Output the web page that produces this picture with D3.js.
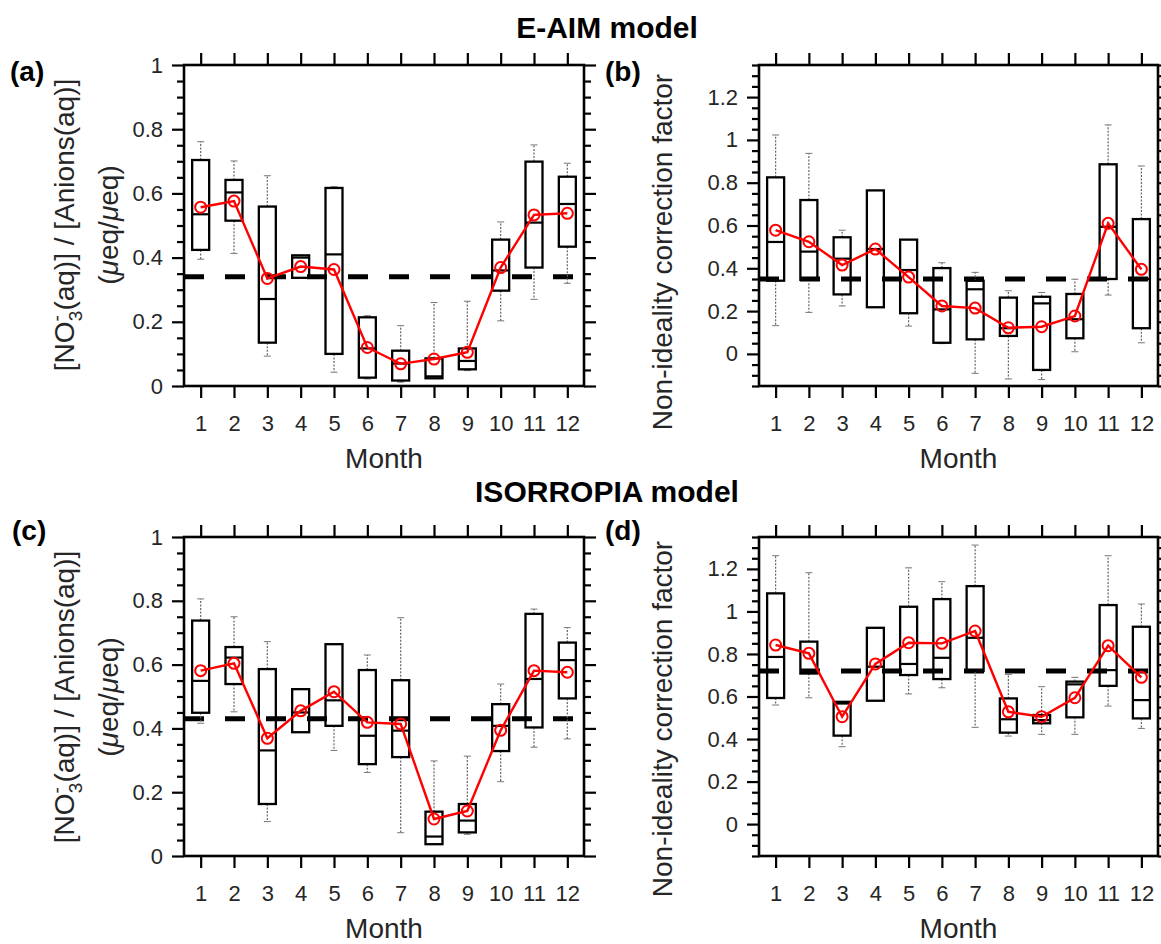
<!DOCTYPE html>
<html>
<head>
<meta charset="utf-8">
<script src="https://cdn.jsdelivr.net/npm/d3@7"></script>
<style>
  body { margin: 0; background: #fff; }
  svg text { font-family: "Liberation Sans", Arial, Helvetica, sans-serif; }
</style>
</head>
<body>
<script>
var months = [1, 2, 3, 4, 5, 6, 7, 8, 9, 10, 11, 12];

// (a) E-AIM: NO3- fraction of aqueous anions
var eaimFracLo   = [0.395, 0.413, 0.093, 0.337, 0.043, 0.022, 0.012, 0.024, 0.048, 0.203, 0.270, 0.320];
var eaimFracQ1   = [0.424, 0.515, 0.135, 0.337, 0.100, 0.026, 0.017, 0.024, 0.052, 0.297, 0.369, 0.434];
var eaimFracMed  = [0.535, 0.603, 0.271, 0.400, 0.410, 0.117, 0.070, 0.030, 0.078, 0.360, 0.509, 0.567];
var eaimFracQ3   = [0.704, 0.642, 0.559, 0.407, 0.617, 0.214, 0.110, 0.086, 0.117, 0.456, 0.699, 0.652];
var eaimFracHi   = [0.761, 0.701, 0.655, 0.407, 0.621, 0.219, 0.188, 0.260, 0.264, 0.511, 0.751, 0.694];
var eaimFracMean = [0.557, 0.576, 0.335, 0.372, 0.363, 0.120, 0.069, 0.084, 0.105, 0.369, 0.533, 0.538];
var eaimFracRef  = 0.34;

// (b) E-AIM: non-ideality correction factor
var eaimCorrLo   = [0.132, 0.194, 0.224, 0.218, 0.130, 0.048, -0.091, -0.117, -0.120, 0.010, 0.275, 0.052];
var eaimCorrQ1   = [0.342, 0.346, 0.278, 0.218, 0.190, 0.052, 0.068, 0.084, -0.075, 0.073, 0.350, 0.120];
var eaimCorrMed  = [0.523, 0.478, 0.445, 0.490, 0.392, 0.208, 0.302, 0.120, 0.236, 0.162, 0.594, 0.350];
var eaimCorrQ3   = [0.825, 0.719, 0.545, 0.764, 0.534, 0.401, 0.342, 0.263, 0.267, 0.280, 0.886, 0.630];
var eaimCorrHi   = [1.023, 0.937, 0.578, 0.764, 0.534, 0.426, 0.381, 0.295, 0.287, 0.349, 1.070, 0.878];
var eaimCorrMean = [0.578, 0.524, 0.415, 0.490, 0.359, 0.224, 0.214, 0.122, 0.127, 0.177, 0.610, 0.395];
var eaimCorrRef  = 0.35;

// (c) ISORROPIA: NO3- fraction of aqueous anions
var isoFracLo   = [0.416, 0.452, 0.108, 0.388, 0.331, 0.262, 0.073, 0.037, 0.068, 0.233, 0.341, 0.367];
var isoFracQ1   = [0.449, 0.539, 0.163, 0.388, 0.408, 0.288, 0.310, 0.037, 0.074, 0.329, 0.403, 0.494];
var isoFracMed  = [0.549, 0.622, 0.331, 0.450, 0.488, 0.377, 0.393, 0.061, 0.111, 0.408, 0.555, 0.614];
var isoFracQ3   = [0.738, 0.655, 0.586, 0.523, 0.664, 0.583, 0.551, 0.139, 0.163, 0.476, 0.759, 0.669];
var isoFracHi   = [0.806, 0.750, 0.672, 0.523, 0.664, 0.630, 0.747, 0.298, 0.313, 0.539, 0.774, 0.716];
var isoFracMean = [0.581, 0.604, 0.369, 0.455, 0.515, 0.419, 0.414, 0.116, 0.141, 0.394, 0.581, 0.576];
var isoFracRef  = 0.43;

// (d) ISORROPIA: non-ideality correction factor
var isoCorrLo   = [0.560, 0.594, 0.364, 0.580, 0.612, 0.641, 0.455, 0.414, 0.422, 0.422, 0.555, 0.450];
var isoCorrQ1   = [0.593, 0.708, 0.416, 0.580, 0.701, 0.682, 0.720, 0.430, 0.474, 0.502, 0.650, 0.497];
var isoCorrMed  = [0.786, 0.716, 0.567, 0.740, 0.753, 0.782, 0.876, 0.493, 0.489, 0.657, 0.724, 0.583];
var isoCorrQ3   = [1.085, 0.858, 0.575, 0.923, 1.022, 1.058, 1.119, 0.591, 0.513, 0.670, 1.030, 0.928];
var isoCorrHi   = [1.262, 1.182, 0.575, 0.923, 1.205, 1.140, 1.312, 0.704, 0.646, 0.690, 1.262, 1.035];
var isoCorrMean = [0.842, 0.803, 0.505, 0.753, 0.853, 0.850, 0.908, 0.528, 0.505, 0.594, 0.839, 0.690];
var isoCorrRef  = 0.72;

var fracTicks = [0, 0.2, 0.4, 0.6, 0.8, 1];
var corrTicks = [0, 0.2, 0.4, 0.6, 0.8, 1, 1.2];

var svg = d3.select("body").append("svg")
    .attr("width", 1161)
    .attr("height", 944);

var tickFmt = function(d) { return String(+d.toFixed(1)); };

function drawPanel(p) {
  var x = d3.scaleLinear().domain([0.5, 12.5]).range([p.left, p.left + p.width]);
  var y = d3.scaleLinear().domain(p.yDomain).range([p.top + p.height, p.top]);
  var g = svg.append("g");

  var minor = d3.range(Math.round(p.yDomain[0] / 0.05), Math.round(p.yDomain[1] / 0.05) + 1)
      .map(function(i) { return +(i * 0.05).toFixed(2); })
      .filter(function(v) { return p.yTicks.indexOf(v) < 0; });

  // axes: ticks point outward on all four sides
  var left = g.append("g").attr("transform", "translate(" + p.left + ",0)");
  left.append("g").call(d3.axisLeft(y).tickValues(p.yTicks).tickSize(12).tickPadding(9).tickFormat(tickFmt));
  left.append("g").call(d3.axisLeft(y).tickValues(minor).tickSize(7).tickFormat(""));

  var right = g.append("g").attr("transform", "translate(" + (p.left + p.width) + ",0)");
  right.append("g").call(d3.axisRight(y).tickValues(p.yTicks).tickSize(12).tickFormat(""));
  right.append("g").call(d3.axisRight(y).tickValues(minor).tickSize(7).tickFormat(""));

  g.append("g").attr("transform", "translate(0," + p.top + ")")
      .call(d3.axisTop(x).tickValues(months).tickSize(12).tickFormat(""));
  g.append("g").attr("transform", "translate(0," + (p.top + p.height) + ")")
      .call(d3.axisBottom(x).tickValues(months).tickSize(12).tickPadding(17).tickFormat(d3.format("d")));

  g.selectAll(".domain").remove();
  g.selectAll(".tick line").attr("stroke", "#000").attr("stroke-width", 2.2);
  g.selectAll(".tick text").attr("fill", "#262626").style("font-size", "22px");

  g.append("rect")
      .attr("x", p.left).attr("y", p.top)
      .attr("width", p.width).attr("height", p.height)
      .attr("fill", "none").attr("stroke", "#000").attr("stroke-width", 2.6);

  // reference level
  g.append("line")
      .attr("x1", x.range()[0]).attr("x2", x.range()[1])
      .attr("y1", y(p.ref)).attr("y2", y(p.ref))
      .attr("stroke", "#000").attr("stroke-width", 5)
      .attr("stroke-dasharray", "20,21");

  var rows = months.map(function(m, i) {
    return {m: m, lo: p.lo[i], q1: p.q1[i], med: p.med[i], q3: p.q3[i], hi: p.hi[i], mean: p.mean[i]};
  });

  var bw = 17;
  var box = g.selectAll(".box").data(rows).enter().append("g").attr("class", "box");

  box.append("line")
      .attr("x1", function(d) { return x(d.m); }).attr("x2", function(d) { return x(d.m); })
      .attr("y1", function(d) { return y(d.q3); }).attr("y2", function(d) { return y(d.hi); })
      .attr("stroke", "#666").attr("stroke-width", 1.2).attr("stroke-dasharray", "2,1.5");
  box.append("line")
      .attr("x1", function(d) { return x(d.m); }).attr("x2", function(d) { return x(d.m); })
      .attr("y1", function(d) { return y(d.q1); }).attr("y2", function(d) { return y(d.lo); })
      .attr("stroke", "#666").attr("stroke-width", 1.2).attr("stroke-dasharray", "2,1.5");
  ["lo", "hi"].forEach(function(k) {
    box.append("line")
        .attr("x1", function(d) { return x(d.m) - 3.5; }).attr("x2", function(d) { return x(d.m) + 3.5; })
        .attr("y1", function(d) { return y(d[k]); }).attr("y2", function(d) { return y(d[k]); })
        .attr("stroke", "#777").attr("stroke-width", 1);
  });

  box.append("rect")
      .attr("x", function(d) { return x(d.m) - bw / 2; })
      .attr("y", function(d) { return y(d.q3); })
      .attr("width", bw)
      .attr("height", function(d) { return Math.max(0, y(d.q1) - y(d.q3)); })
      .attr("fill", "none").attr("stroke", "#000").attr("stroke-width", 2.3);
  box.append("line")
      .attr("x1", function(d) { return x(d.m) - bw / 2; }).attr("x2", function(d) { return x(d.m) + bw / 2; })
      .attr("y1", function(d) { return y(d.med); }).attr("y2", function(d) { return y(d.med); })
      .attr("stroke", "#000").attr("stroke-width", 2.2);

  // monthly mean
  g.append("path")
      .datum(rows)
      .attr("fill", "none").attr("stroke", "#ff0000").attr("stroke-width", 2.4)
      .attr("d", d3.line().x(function(d) { return x(d.m); }).y(function(d) { return y(d.mean); }));
  g.selectAll(".mean").data(rows).enter().append("circle")
      .attr("class", "mean")
      .attr("cx", function(d) { return x(d.m); })
      .attr("cy", function(d) { return y(d.mean); })
      .attr("r", 5.5)
      .attr("fill", "none").attr("stroke", "#ff0000").attr("stroke-width", 2);

  g.append("text")
      .attr("x", p.left + p.width / 2).attr("y", p.top + p.height + 82)
      .attr("text-anchor", "middle").attr("fill", "#262626")
      .style("font-size", "28px").text("Month");

  g.append("text")
      .attr("x", p.tagX).attr("y", p.tagY)
      .attr("fill", "#000").style("font-size", "28px").style("font-weight", "bold")
      .text(p.tag);
}

function fracLabel(cy) {
  var t = svg.append("text")
      .attr("transform", "rotate(-90)")
      .attr("x", -cy).attr("y", 74)
      .attr("text-anchor", "middle").attr("fill", "#262626")
      .style("font-size", "28px");
  t.append("tspan").text("[NO");
  t.append("tspan").attr("dy", -11).style("font-size", "19px").text("-");
  t.append("tspan").attr("dx", -6).attr("dy", 19).style("font-size", "19px").text("3");
  t.append("tspan").attr("dy", -8).text("(aq)] / [Anions(aq)]");

  var u = svg.append("text")
      .attr("transform", "rotate(-90)")
      .attr("x", -cy).attr("y", 118)
      .attr("text-anchor", "middle").attr("fill", "#262626")
      .style("font-size", "28px");
  u.append("tspan").text("(");
  u.append("tspan").style("font-style", "italic").text("\u03bc");
  u.append("tspan").text("eq/");
  u.append("tspan").style("font-style", "italic").text("\u03bc");
  u.append("tspan").text("eq)");
}

function corrLabel(cy) {
  svg.append("text")
      .attr("transform", "rotate(-90)")
      .attr("x", -cy).attr("y", 672)
      .attr("text-anchor", "middle").attr("fill", "#262626")
      .style("font-size", "28px")
      .text("Non-ideality correction factor");
}

drawPanel({left: 184, top: 65, width: 400, height: 321, yDomain: [0, 1], yTicks: fracTicks,
  lo: eaimFracLo, q1: eaimFracQ1, med: eaimFracMed, q3: eaimFracQ3, hi: eaimFracHi, mean: eaimFracMean,
  ref: eaimFracRef, tag: "(a)", tagX: 10, tagY: 81});
drawPanel({left: 759, top: 65, width: 399, height: 321, yDomain: [-0.15, 1.35], yTicks: corrTicks,
  lo: eaimCorrLo, q1: eaimCorrQ1, med: eaimCorrMed, q3: eaimCorrQ3, hi: eaimCorrHi, mean: eaimCorrMean,
  ref: eaimCorrRef, tag: "(b)", tagX: 605, tagY: 81});
drawPanel({left: 184, top: 537, width: 400, height: 319, yDomain: [0, 1], yTicks: fracTicks,
  lo: isoFracLo, q1: isoFracQ1, med: isoFracMed, q3: isoFracQ3, hi: isoFracHi, mean: isoFracMean,
  ref: isoFracRef, tag: "(c)", tagX: 12, tagY: 540});
drawPanel({left: 759, top: 537, width: 399, height: 319, yDomain: [-0.15, 1.35], yTicks: corrTicks,
  lo: isoCorrLo, q1: isoCorrQ1, med: isoCorrMed, q3: isoCorrQ3, hi: isoCorrHi, mean: isoCorrMean,
  ref: isoCorrRef, tag: "(d)", tagX: 605, tagY: 540});

fracLabel(225);
fracLabel(697);
corrLabel(252);
corrLabel(719);

svg.append("text")
    .attr("x", 607).attr("y", 38)
    .attr("text-anchor", "middle").attr("fill", "#000")
    .style("font-size", "30px").style("font-weight", "bold")
    .text("E-AIM model");
svg.append("text")
    .attr("x", 607).attr("y", 502)
    .attr("text-anchor", "middle").attr("fill", "#000")
    .style("font-size", "30px").style("font-weight", "bold")
    .text("ISORROPIA model");
</script>
</body>
</html>
